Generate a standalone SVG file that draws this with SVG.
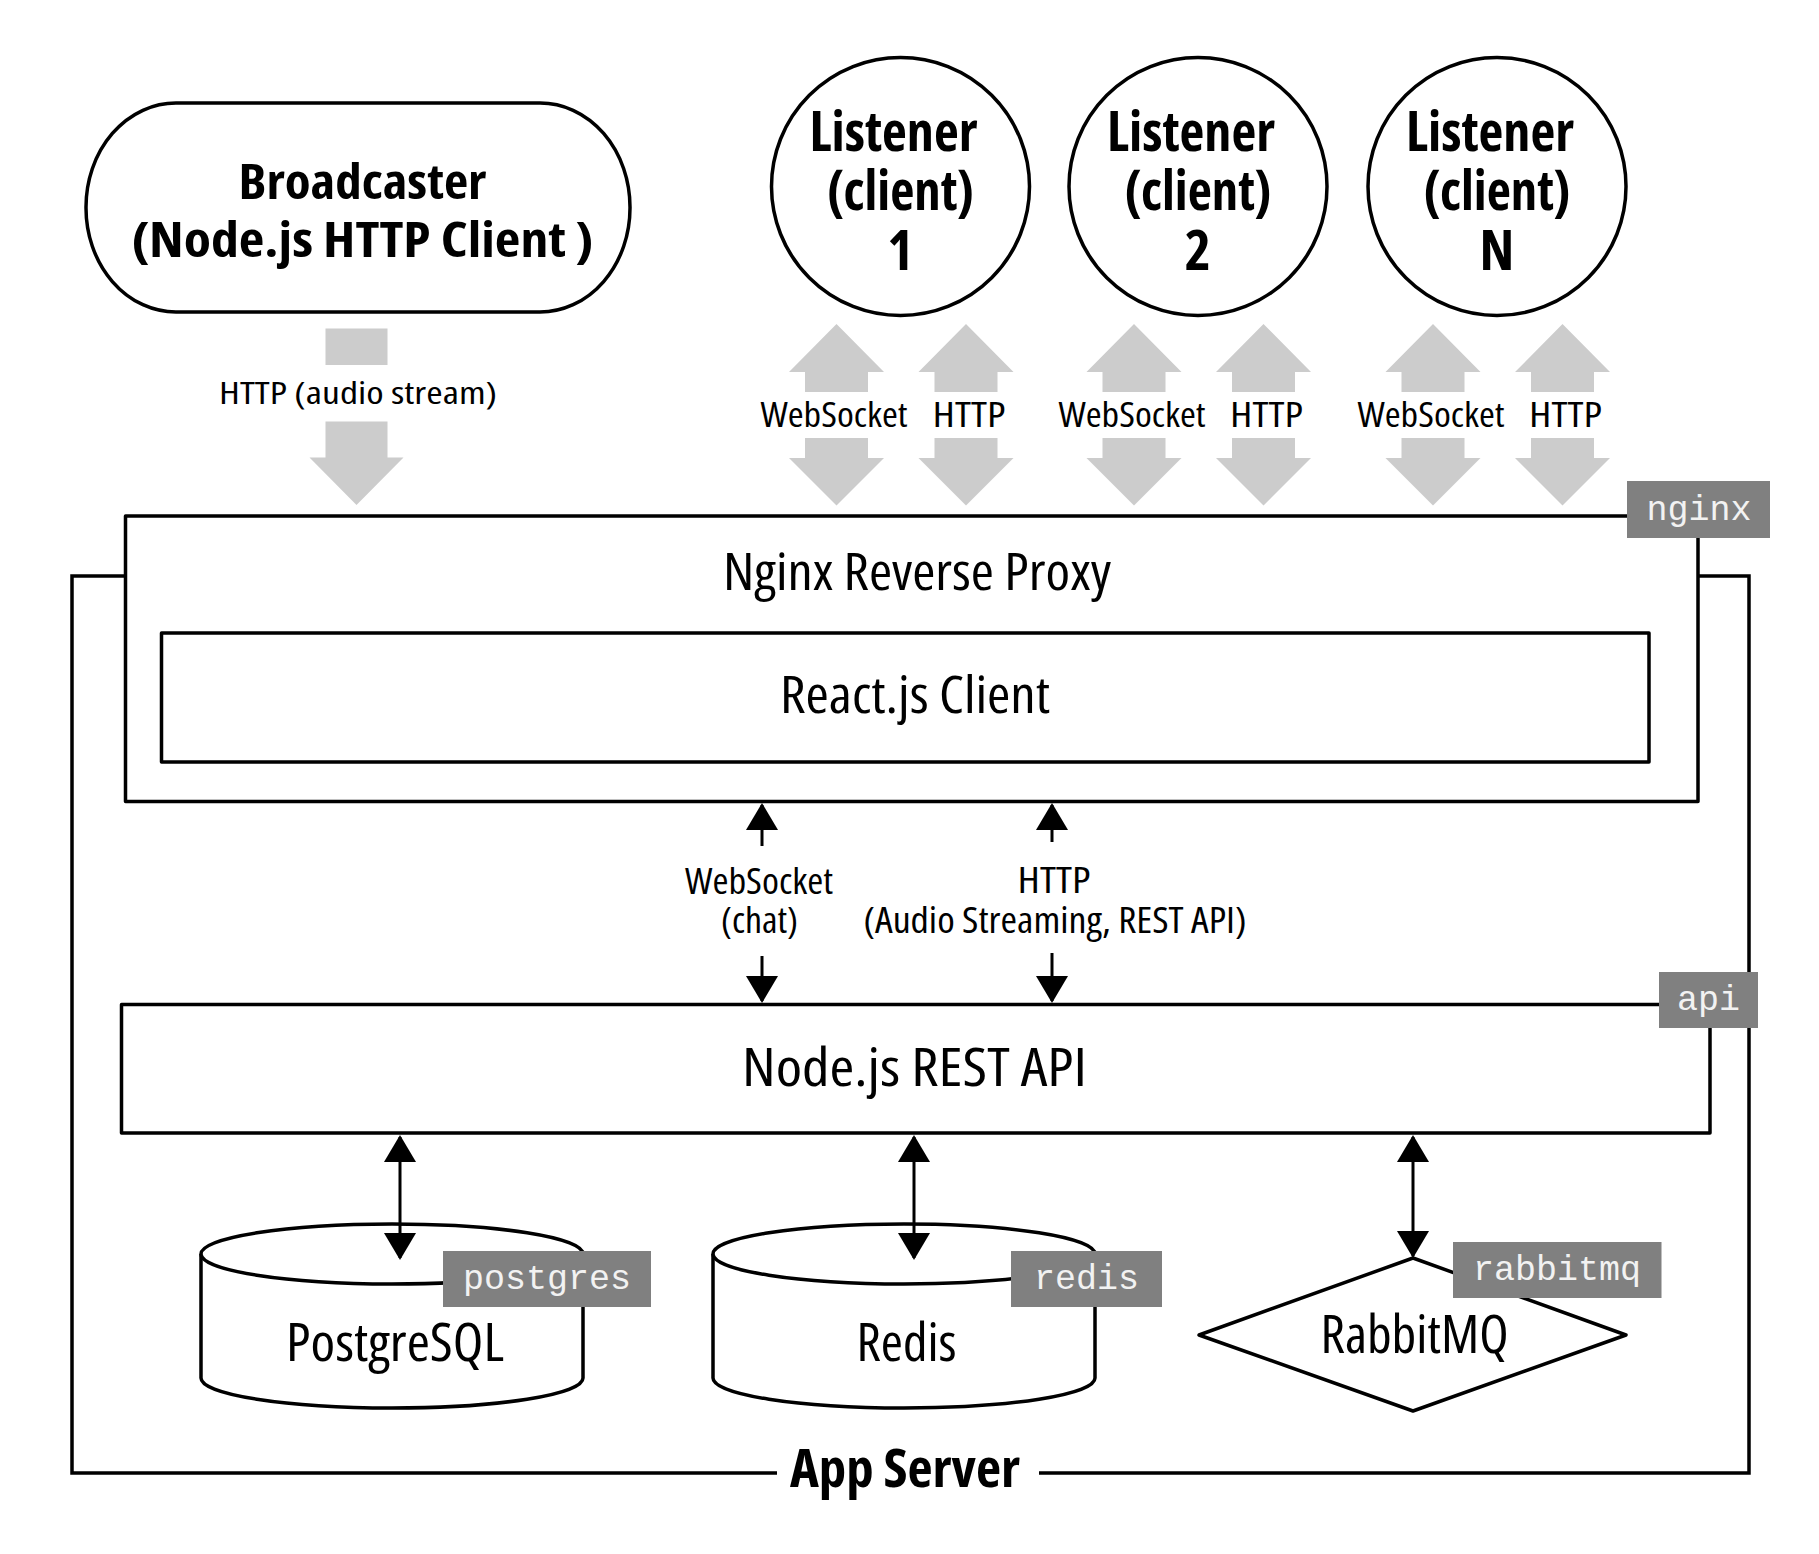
<svg xmlns="http://www.w3.org/2000/svg" xmlns:xlink="http://www.w3.org/1999/xlink" width="1819" height="1554" viewBox="0 0 1819 1554">
<style>
.box{fill:#fff;stroke:#000;stroke-width:3.5;stroke-linejoin:round}
.lbl{font-family:"Open Sans","Liberation Sans",sans-serif;font-stretch:condensed;fill:#000;text-anchor:middle}
.b{font-weight:bold}
.tag rect{fill:#808080}
.tag text{font-family:"Liberation Mono","DejaVu Sans Mono",monospace;font-size:35px;fill:#f2f2f2;text-anchor:middle}
.garrow{fill:#cccccc}
.conn{stroke:#000;stroke-width:3;fill:none}
.frame{stroke:#000;stroke-width:3.5;fill:none}
</style>
<defs>
<marker id="ah" viewBox="0 0 27 32" refX="25" refY="16" markerWidth="27" markerHeight="32" markerUnits="userSpaceOnUse" orient="auto-start-reverse">
<path d="M0,0 L27,16 L0,32 z" fill="#000"/>
</marker>
<path id="gup" d="M0,324 L47.5,372 L31.5,372 L31.5,392 L-31.5,392 L-31.5,372 L-47.5,372 Z"/>
<path id="gdown" d="M-31.5,438 L31.5,438 L31.5,458 L47.5,458 L0,505.5 L-47.5,458 L-31.5,458 Z"/>
</defs>
<rect width="1819" height="1554" fill="#fff"/>

<g id="app-server">
<path class="frame" d="M777,1473 H72 V576 H125 M1698,576 H1749 V1473 H1039"/>
<text class="lbl b" x="905" y="1487" font-size="54" textLength="230" lengthAdjust="spacingAndGlyphs">App Server</text>
</g>

<g id="broadcaster">
<rect class="box" x="86" y="103" width="544" height="209" rx="90" ry="104"/>
<text class="lbl b" font-size="49"><tspan x="362.5" y="199" textLength="248" lengthAdjust="spacingAndGlyphs">Broadcaster</tspan><tspan x="362.5" y="257" textLength="462" lengthAdjust="spacingAndGlyphs">(Node.js HTTP Client )</tspan></text>
</g>

<g id="listener-1">
<circle class="box" cx="900.5" cy="186.5" r="129"/>
<text class="lbl b" font-size="56"><tspan x="893.5" y="151" textLength="168" lengthAdjust="spacingAndGlyphs">Listener</tspan><tspan x="900.5" y="210" textLength="147" lengthAdjust="spacingAndGlyphs">(client)</tspan><tspan x="900.5" y="270">1</tspan></text>
</g>
<g id="listener-2">
<circle class="box" cx="1198" cy="186.5" r="129"/>
<text class="lbl b" font-size="56"><tspan x="1191" y="151" textLength="168" lengthAdjust="spacingAndGlyphs">Listener</tspan><tspan x="1198" y="210" textLength="147" lengthAdjust="spacingAndGlyphs">(client)</tspan><tspan x="1198" y="270">2</tspan></text>
</g>
<g id="listener-n">
<circle class="box" cx="1497" cy="186.5" r="129"/>
<text class="lbl b" font-size="56"><tspan x="1490" y="151" textLength="168" lengthAdjust="spacingAndGlyphs">Listener</tspan><tspan x="1497" y="210" textLength="147" lengthAdjust="spacingAndGlyphs">(client)</tspan><tspan x="1497" y="270">N</tspan></text>
</g>

<g id="nginx">
<rect class="box" x="125.5" y="516" width="1572.5" height="285.5"/>
<text class="lbl" x="917" y="590" font-size="51" textLength="388" lengthAdjust="spacingAndGlyphs">Nginx Reverse Proxy</text>
<g class="tag"><rect x="1627" y="481" width="143" height="57"/><text x="1699" y="520">nginx</text></g>
</g>

<g id="react-client">
<rect class="box" x="161.5" y="633" width="1487.5" height="129"/>
<text class="lbl" x="915" y="712.5" font-size="51" textLength="270" lengthAdjust="spacingAndGlyphs">React.js Client</text>
</g>

<g id="api">
<rect class="box" x="121.5" y="1004.5" width="1588.5" height="128.5"/>
<text class="lbl" x="914.5" y="1086" font-size="53" textLength="345" lengthAdjust="spacingAndGlyphs">Node.js REST API</text>
<g class="tag"><rect x="1659" y="972" width="99" height="56"/><text x="1708.5" y="1010">api</text></g>
</g>

<g id="postgres">
<path class="box" d="M201,1254 A191,30 0 0 1 583,1254 V1378 A191,30 0 0 1 201,1378 Z"/>
<path class="box" d="M201,1254 A191,30 0 0 0 583,1254" fill="none"/>
<text class="lbl" x="395" y="1361" font-size="52" textLength="218" lengthAdjust="spacingAndGlyphs">PostgreSQL</text>
<g class="tag"><rect x="443" y="1251" width="208" height="56"/><text x="547" y="1289">postgres</text></g>
</g>

<g id="redis">
<path class="box" d="M713,1254 A191,30 0 0 1 1095,1254 V1378 A191,30 0 0 1 713,1378 Z"/>
<path class="box" d="M713,1254 A191,30 0 0 0 1095,1254" fill="none"/>
<text class="lbl" x="906.5" y="1361" font-size="52" textLength="100" lengthAdjust="spacingAndGlyphs">Redis</text>
<g class="tag"><rect x="1011" y="1251" width="151" height="56"/><text x="1086.5" y="1289">redis</text></g>
</g>

<g id="rabbitmq">
<polygon class="box" points="1413,1258 1626,1335 1413,1411 1199,1335"/>
<text class="lbl" x="1414.5" y="1353" font-size="52" textLength="188" lengthAdjust="spacingAndGlyphs">RabbitMQ</text>
<g class="tag"><rect x="1453" y="1242" width="208.5" height="56"/><text x="1557" y="1280">rabbitmq</text></g>
</g>

<g id="connectors">
<g id="broadcaster-http" class="garrow">
<rect x="325.5" y="328.5" width="62" height="36.5"/>
<path d="M325.5,421.5 L387.5,421.5 L387.5,457.5 L403.5,457.5 L356.5,505 L309.5,457.5 L325.5,457.5 Z"/>
</g>
<text class="lbl" x="358" y="404" font-size="31" textLength="278" lengthAdjust="spacingAndGlyphs">HTTP (audio stream)</text>

<g class="garrow">
<use xlink:href="#gup" href="#gup" transform="translate(836.5,0)"/>
<use xlink:href="#gdown" href="#gdown" transform="translate(836.5,0)"/>
<use xlink:href="#gup" href="#gup" transform="translate(966,0)"/>
<use xlink:href="#gdown" href="#gdown" transform="translate(966,0)"/>
<use xlink:href="#gup" href="#gup" transform="translate(1134,0)"/>
<use xlink:href="#gdown" href="#gdown" transform="translate(1134,0)"/>
<use xlink:href="#gup" href="#gup" transform="translate(1263.5,0)"/>
<use xlink:href="#gdown" href="#gdown" transform="translate(1263.5,0)"/>
<use xlink:href="#gup" href="#gup" transform="translate(1433,0)"/>
<use xlink:href="#gdown" href="#gdown" transform="translate(1433,0)"/>
<use xlink:href="#gup" href="#gup" transform="translate(1562.5,0)"/>
<use xlink:href="#gdown" href="#gdown" transform="translate(1562.5,0)"/>
</g>
<text class="lbl" x="834" y="427" font-size="35" textLength="147" lengthAdjust="spacingAndGlyphs">WebSocket</text>
<text class="lbl" x="969" y="427" font-size="35" textLength="73" lengthAdjust="spacingAndGlyphs">HTTP</text>
<text class="lbl" x="1132" y="427" font-size="35" textLength="147" lengthAdjust="spacingAndGlyphs">WebSocket</text>
<text class="lbl" x="1266.5" y="427" font-size="35" textLength="73" lengthAdjust="spacingAndGlyphs">HTTP</text>
<text class="lbl" x="1431" y="427" font-size="35" textLength="147" lengthAdjust="spacingAndGlyphs">WebSocket</text>
<text class="lbl" x="1565.5" y="427" font-size="35" textLength="73" lengthAdjust="spacingAndGlyphs">HTTP</text>

<line class="conn" x1="762" y1="846" x2="762" y2="805" marker-end="url(#ah)"/>
<line class="conn" x1="762" y1="956" x2="762" y2="1001" marker-end="url(#ah)"/>
<text class="lbl" font-size="36"><tspan x="759" y="894" textLength="148" lengthAdjust="spacingAndGlyphs">WebSocket</tspan><tspan x="759.5" y="933" textLength="77" lengthAdjust="spacingAndGlyphs">(chat)</tspan></text>

<line class="conn" x1="1052" y1="842" x2="1052" y2="805" marker-end="url(#ah)"/>
<line class="conn" x1="1052" y1="953" x2="1052" y2="1001" marker-end="url(#ah)"/>
<text class="lbl" font-size="36"><tspan x="1054" y="893" textLength="73" lengthAdjust="spacingAndGlyphs">HTTP</tspan><tspan x="1055" y="933" textLength="383" lengthAdjust="spacingAndGlyphs">(Audio Streaming, REST API)</tspan></text>

<line class="conn" x1="400" y1="1137" x2="400" y2="1258" marker-start="url(#ah)" marker-end="url(#ah)"/>
<line class="conn" x1="914" y1="1137" x2="914" y2="1258" marker-start="url(#ah)" marker-end="url(#ah)"/>
<line class="conn" x1="1413" y1="1137" x2="1413" y2="1256" marker-start="url(#ah)" marker-end="url(#ah)"/>
</g>
</svg>
